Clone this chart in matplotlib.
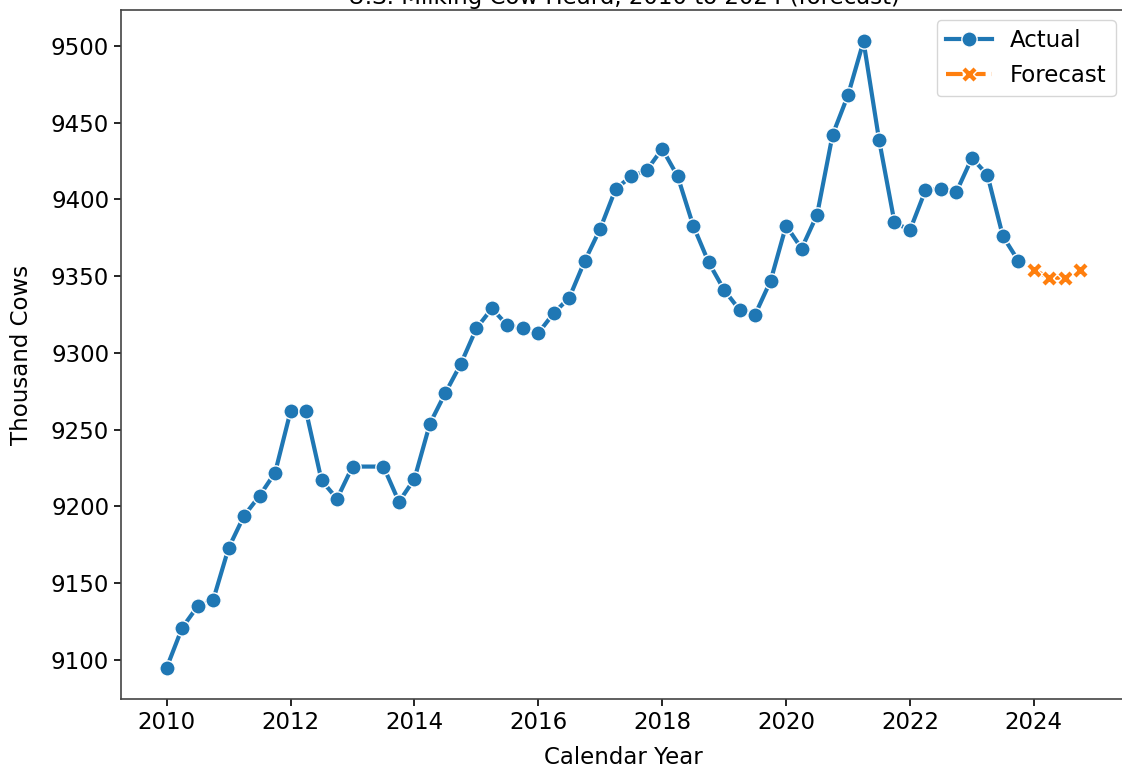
import matplotlib
matplotlib.use("Agg")
import matplotlib.pyplot as plt
import numpy as np

# quarterly milking cow herd, thousand head (2013 Q2 missing in source)
actual_x = [2010.0, 2010.25, 2010.5, 2010.75,
            2011.0, 2011.25, 2011.5, 2011.75,
            2012.0, 2012.25, 2012.5, 2012.75,
            2013.0, 2013.5, 2013.75,
            2014.0, 2014.25, 2014.5, 2014.75,
            2015.0, 2015.25, 2015.5, 2015.75,
            2016.0, 2016.25, 2016.5, 2016.75,
            2017.0, 2017.25, 2017.5, 2017.75,
            2018.0, 2018.25, 2018.5, 2018.75,
            2019.0, 2019.25, 2019.5, 2019.75,
            2020.0, 2020.25, 2020.5, 2020.75,
            2021.0, 2021.25, 2021.5, 2021.75,
            2022.0, 2022.25, 2022.5, 2022.75,
            2023.0, 2023.25, 2023.5, 2023.75]
actual_y = [9095, 9121, 9135, 9139,
            9173, 9194, 9207, 9222,
            9262, 9262, 9217, 9205,
            9226, 9226, 9203,
            9218, 9254, 9274, 9293,
            9316, 9329, 9318, 9316,
            9313, 9326, 9336, 9360,
            9381, 9407, 9415, 9419,
            9433, 9415, 9383, 9359,
            9341, 9328, 9325, 9347,
            9383, 9368, 9390, 9442,
            9468, 9503, 9439, 9385,
            9380, 9406, 9407, 9405,
            9427, 9416, 9376, 9360]

forecast_x = [2024.0, 2024.25, 2024.5, 2024.75]
forecast_y = [9354, 9349, 9349, 9354]

W, H = 1122, 769
fig = plt.figure(figsize=(W / 100, H / 100), dpi=100)
# axes box runs a little past the right edge, like the cropped original
ax = fig.add_axes([121 / W, (H - 699) / H, (1126 - 121) / W, (699 - 10) / H])

fs = 16.5
ax.plot(actual_x, actual_y, color='#1f77b4', lw=3, marker='o', ms=11,
        mec='white', mew=1, label='Actual')
ax.plot(forecast_x, forecast_y, color='#ff7f0e', lw=3, ls=(0, (4, 1.5)),
        marker='X', ms=11, mec='white', mew=1, label='Forecast')

ax.set_xticks([2010, 2012, 2014, 2016, 2018, 2020, 2022, 2024])
ax.set_yticks(np.arange(9100, 9501, 50))
ax.tick_params(labelsize=fs, length=5, width=1.2)
for s in ax.spines.values():
    s.set_linewidth(1.2)
    s.set_color('#444444')

ax.set_xlabel('Calendar Year', fontsize=fs, labelpad=9)
ax.set_ylabel('Thousand Cows', fontsize=fs, labelpad=13)
ax.set_title('U.S. Milking Cow Heard, 2010 to 2024 (forecast)', fontsize=fs, pad=4)
ax.legend(loc='upper right', fontsize=fs, handlelength=2, borderaxespad=0.45)

fig.savefig('out.png', dpi=100)
